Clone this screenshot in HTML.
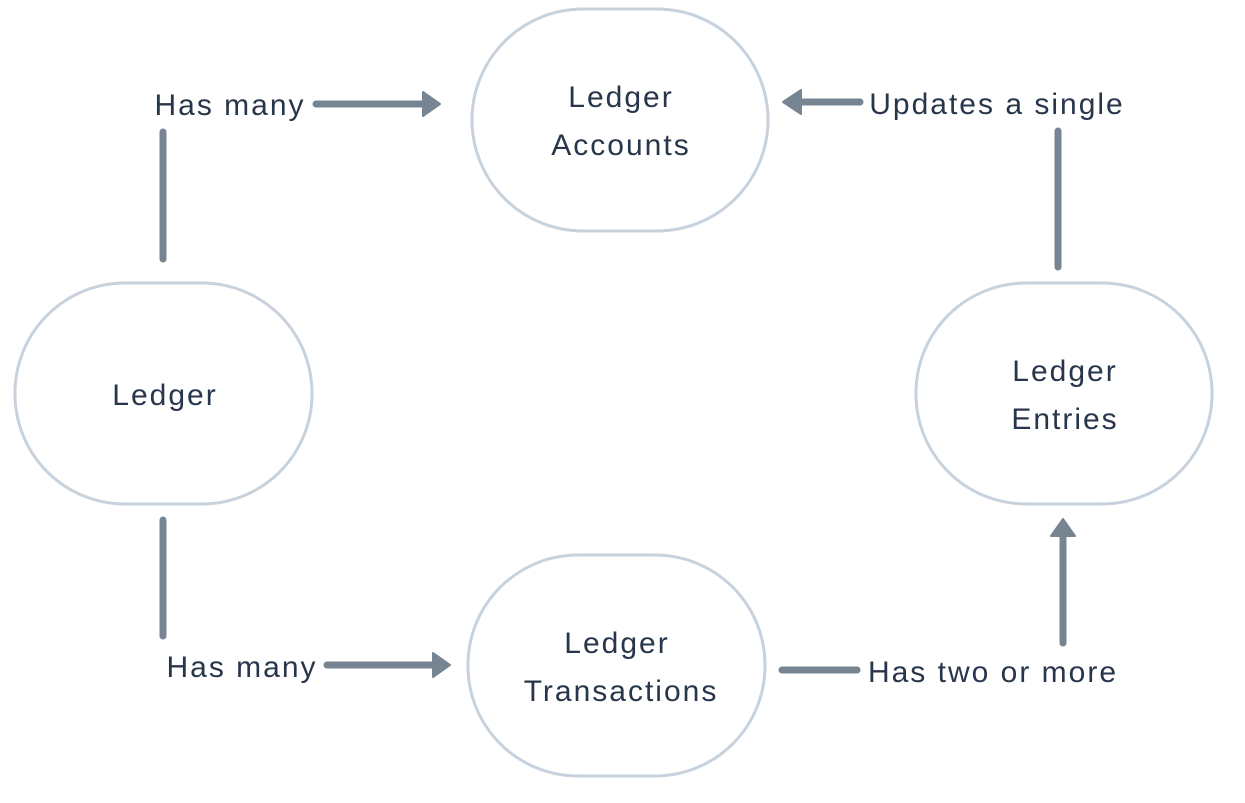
<!DOCTYPE html>
<html><head><style>
html,body{margin:0;padding:0;background:#fff;}
svg{display:block}
text{font-family:"Liberation Sans",sans-serif;font-size:30px;letter-spacing:2px;fill:#27364a;}
</style></head><body>
<svg width="1245" height="803" viewBox="0 0 1245 803">
<g fill="none" stroke="#c7d2dd" stroke-width="3">
<rect x="472" y="9" width="296" height="222" rx="111" ry="111"/>
<rect x="15" y="283" width="297" height="221" rx="110" ry="110"/>
<rect x="916" y="283" width="296" height="221" rx="110" ry="110"/>
<rect x="468" y="555" width="297" height="221" rx="110" ry="110"/>
</g>
<g stroke="#778593" stroke-width="7" stroke-linecap="round" fill="none">
<line x1="163" y1="132" x2="163" y2="259"/>
<line x1="316" y1="104" x2="424" y2="104"/>
<line x1="860" y1="102" x2="800" y2="102"/>
<line x1="1058" y1="131" x2="1058" y2="267"/>
<line x1="163" y1="520" x2="163" y2="636"/>
<line x1="327" y1="665" x2="434" y2="665"/>
<line x1="782" y1="670" x2="857" y2="670"/>
<line x1="1063" y1="643" x2="1063" y2="535"/>
</g>
<g fill="#778593" stroke="#778593" stroke-width="2" stroke-linejoin="round">
<polygon points="423,92 440,104 423,116"/>
<polygon points="801,90 783,102 801,114"/>
<polygon points="433,653 450,665 433,677"/>
<polygon points="1051,536 1063,519 1075,536"/>
</g>
<g text-anchor="middle">
<text x="621" y="107">Ledger</text>
<text x="621" y="155">Accounts</text>
<text x="165" y="405">Ledger</text>
<text x="1065" y="381">Ledger</text>
<text x="1065" y="429">Entries</text>
<text x="617" y="653">Ledger</text>
<text x="621" y="701">Transactions</text>
<text x="230" y="115">Has many</text>
<text x="997" y="114">Updates a single</text>
<text x="242" y="677">Has many</text>
<text x="993" y="682">Has two or more</text>
</g>
</svg>
</body></html>
